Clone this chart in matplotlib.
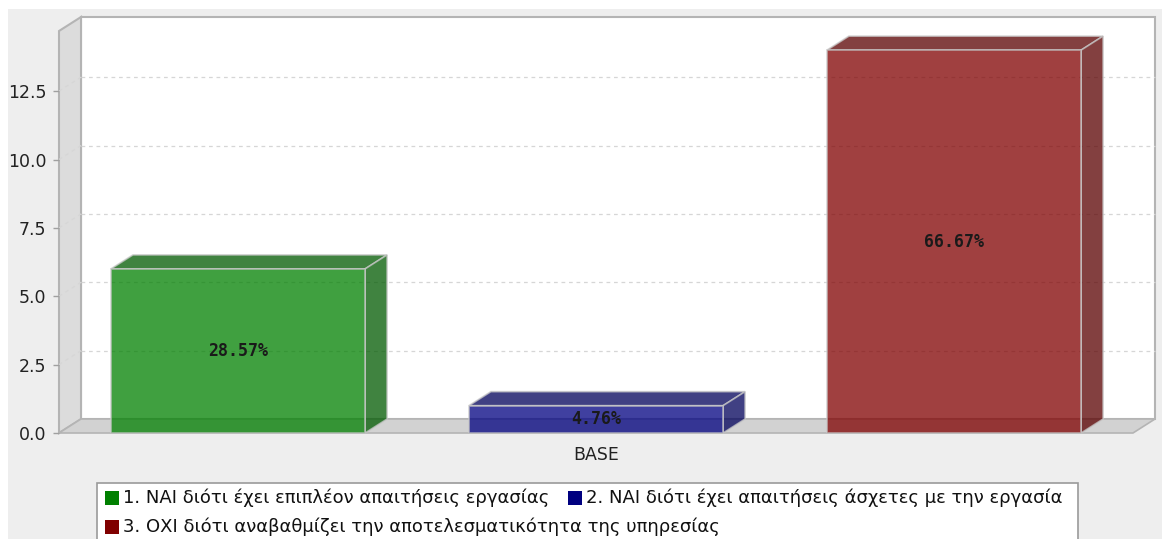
import matplotlib
matplotlib.use("Agg")
import matplotlib.pyplot as plt
from matplotlib.patches import Polygon, Rectangle
from matplotlib.colors import to_rgb

# ---- data ----
category = "BASE"
series_names = [
    "1. ΝΑΙ διότι έχει επιπλέον απαιτήσεις εργασίας",
    "2. ΝΑΙ διότι έχει απαιτήσεις άσχετες με την εργασία",
    "3. ΟΧΙ διότι αναβαθμίζει την αποτελεσματικότητα της υπηρεσίας",
]
counts = [6, 1, 14]
percent_labels = ["28.57%", "4.76%", "66.67%"]
series_colors = ["#008000", "#000080", "#800000"]
y_ticks = [0.0, 2.5, 5.0, 7.5, 10.0, 12.5]
y_max = 14.7

# ---- figure / layout (pixel based) ----
W, H = 1162, 539
DPI = 100
fig = plt.figure(figsize=(W / DPI, H / DPI), dpi=DPI, facecolor="white")


def fx(px):
    return px / W


def fy(py):
    return 1 - py / H


# panel background
fig.patches.append(Rectangle((fx(8), 0), 1, fy(9), transform=fig.transFigure,
                             facecolor="#eeeeee", edgecolor="none", zorder=-10))

left, right, top, bottom = 59, 1133, 31, 433
ax = fig.add_axes([fx(left), fy(bottom), (right - left) / W, (bottom - top) / H])
x_lo, x_hi = -1.5, 1.5
ax.set_xlim(x_lo, x_hi)
ax.set_ylim(0, y_max)
ax.patch.set_visible(False)
for s in ax.spines.values():
    s.set_visible(False)

# depth of the 3D effect, in data units (22 px right, 14 px up)
dx = 22 * (x_hi - x_lo) / (right - left)
dy = 14 * y_max / (bottom - top)

wall_edge = "#b4b4b4"
# back wall
ax.add_patch(Rectangle((x_lo + dx, dy), x_hi - x_lo, y_max, facecolor="white",
                       edgecolor=wall_edge, lw=1.5, zorder=0, clip_on=False))
# left wall
ax.add_patch(Polygon([(x_lo, 0), (x_lo + dx, dy), (x_lo + dx, y_max + dy), (x_lo, y_max)],
                     closed=True, facecolor="#dcdcdc", edgecolor=wall_edge, lw=1.5,
                     zorder=0.5, clip_on=False))
# floor
ax.add_patch(Polygon([(x_lo, 0), (x_hi, 0), (x_hi + dx, dy), (x_lo + dx, dy)],
                     closed=True, facecolor="#d2d2d2", edgecolor=wall_edge, lw=1.2,
                     zorder=0.6, clip_on=False))

# gridlines on the back wall and across the left wall
for v in y_ticks[1:]:
    kw = dict(color="#d6d6d6", lw=0.9, dashes=(3, 3), zorder=1, clip_on=False)
    ax.plot([x_lo + dx, x_hi + dx], [v + dy, v + dy], **kw)
    ax.plot([x_lo, x_lo + dx], [v, v + dy], **kw)

# bars
xs = [-1, 0, 1]
bw = 0.71
alpha = 0.75
ax.bar(xs, counts, width=bw, color=series_colors, alpha=alpha,
       edgecolor="#c8c8c8", linewidth=1.2, zorder=3)
for x, v, c in zip(xs, counts, series_colors):
    dark = tuple(ch * 0.7 for ch in to_rgb(c))
    x0, x1 = x - bw / 2, x + bw / 2
    ax.add_patch(Polygon([(x0, v), (x1, v), (x1 + dx, v + dy), (x0 + dx, v + dy)],
                         closed=True, facecolor=dark, alpha=alpha, edgecolor="#c8c8c8",
                         lw=1.2, zorder=2.9, clip_on=False))
    ax.add_patch(Polygon([(x1, 0), (x1 + dx, dy), (x1 + dx, v + dy), (x1, v)],
                         closed=True, facecolor=dark, alpha=alpha, edgecolor="#c8c8c8",
                         lw=1.2, zorder=2.9, clip_on=False))

for x, v, lab in zip(xs, counts, percent_labels):
    ax.text(x, v / 2, lab, ha="center", va="center", family="DejaVu Sans Mono",
            fontweight="bold", fontsize=12, color="#1a1a1a", zorder=5)

# axes ticks
ax.set_yticks(y_ticks)
ax.set_yticklabels([f"{t:.1f}" for t in y_ticks])
ax.tick_params(axis="y", length=4, width=1, color="#a0a0a0", pad=5,
               labelsize=12.5, labelcolor="#222222")
ax.set_xticks([0])
ax.set_xticklabels([category])
ax.tick_params(axis="x", length=0, pad=9, labelsize=12.5, labelcolor="#222222")

# ---- legend (flow layout) ----
fig.patches.append(Rectangle((fx(97), fy(550)), fx(1078) - fx(97), fy(483) - fy(550),
                             transform=fig.transFigure, facecolor="white",
                             edgecolor="#9a9a9a", lw=1.2, zorder=1))
legend_rows = [(0, 105, 498), (1, 568, 498), (2, 105, 527)]
for idx, sx, cy in legend_rows:
    fig.patches.append(Rectangle((fx(sx), fy(cy + 7)), 14 / W, 14 / H,
                                 transform=fig.transFigure, facecolor=series_colors[idx],
                                 edgecolor="none", zorder=2))
    fig.text(fx(sx + 18), fy(cy), series_names[idx], ha="left", va="center",
             fontsize=13, color="#111111", zorder=3)

fig.savefig("out.png", dpi=DPI, facecolor=fig.get_facecolor())
